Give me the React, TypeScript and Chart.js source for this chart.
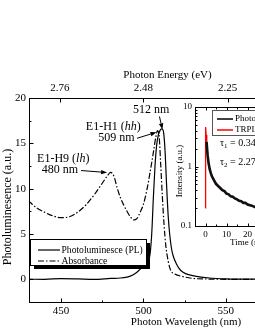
import React, { useEffect, useRef } from 'react';
import { Chart, registerables } from 'chart.js';

Chart.register(...registerables);

const SERIF = "'Liberation Serif', 'Times New Roman', serif";

// ---- Main chart data ----
const absWavelength = [430, 435, 440, 445, 450, 455, 460, 465, 470, 475, 478, 480, 482, 484, 486, 488, 490, 492, 494, 496, 498, 500, 502, 504, 506, 507.5, 508.5, 509.5, 510.5, 511.5, 512.5, 513.5, 515, 516.5, 519, 524, 530, 540, 560, 600];
const absorbance = [8.7, 7.9, 7.4, 7.0, 6.8, 6.9, 7.4, 8.2, 9.3, 10.6, 11.4, 11.8, 11.4, 10.1, 9.0, 8.2, 7.5, 6.9, 6.55, 6.7, 7.4, 8.3, 9.8, 11.8, 14.0, 15.7, 16.4, 15.8, 12.5, 9.0, 6.0, 3.8, 2.0, 1.0, 0.6, 0.3, 0.1, 0.03, 0, 0];

const plWavelength = [430, 440, 450, 460, 470, 480, 486, 490, 492, 495, 497, 499, 501, 503, 504, 505, 506, 507, 508, 509, 510, 511, 512, 513, 514, 515, 516, 517, 518, 520, 522.5, 526, 530, 535, 540, 550, 560, 580, 600];
const photoluminescence = [0.02, 0.0, 0.08, 0.05, 0.0, 0.1, 0.15, 0.25, 0.35, 0.65, 0.95, 1.3, 1.6, 2.0, 2.8, 5.0, 9.0, 12.5, 14.8, 15.9, 16.4, 16.6, 16.4, 14.5, 10.5, 7.0, 4.8, 3.4, 2.6, 1.7, 1.0, 0.6, 0.4, 0.25, 0.15, 0.06, 0.03, 0.01, 0];

const xMin = 430.5;
const xMax = 600;
const yMin = -2.5;
const yMax = 20;
const bottomTicks = [450, 500, 550];
const bottomMinorTicks = [475, 525, 575];
const leftTicks = [0, 5, 10, 15, 20];
const leftMinorTicks = [2.5, 7.5, 12.5, 17.5];
const energyTicks = [2.76, 2.48, 2.25];
const HC = 1240;

// ---- Inset data ----
const fitTime = [0, 0.05, 0.3, 0.6, 1, 1.5, 2, 3, 4, 5, 6, 8, 10, 12, 15, 18, 20, 25, 30, 35, 40, 45];
const fitValue = [0.2, 4.6, 3.4, 2.4, 1.6, 1.1, 0.88, 0.7, 0.6, 0.53, 0.48, 0.41, 0.36, 0.32, 0.28, 0.25, 0.235, 0.2, 0.18, 0.165, 0.15, 0.14];
const dataTime = [0.5, 1, 1.5, 2, 2.5, 3, 4, 5, 6, 7, 8, 9, 10, 11, 12, 13, 14, 15, 16, 17, 18, 19, 20, 22, 24, 26, 28, 30, 32, 35, 38, 41, 44];
const dataValue = [2.6, 1.55, 1.12, 0.9, 0.78, 0.69, 0.59, 0.51, 0.47, 0.435, 0.4, 0.385, 0.35, 0.34, 0.315, 0.31, 0.29, 0.28, 0.265, 0.26, 0.245, 0.245, 0.23, 0.22, 0.205, 0.2, 0.19, 0.18, 0.175, 0.165, 0.16, 0.15, 0.145];
const insetXTicks = [0, 10, 20, 30, 40];
const insetXMinor = [5, 15, 25, 35];
const insetYTicks = [0.1, 1, 10];
const insetYLabels = ['0.1', '1', '10'];
const insetYMinor = [0.2, 0.3, 0.4, 0.5, 0.6, 0.7, 0.8, 0.9, 2, 3, 4, 5, 6, 7, 8, 9];

type Part = [string, boolean];
const annotations: { parts: Part[]; nm: number; v: number }[] = [
  { parts: [['E1-H9 (', false], ['lh', true], [')', false]], nm: 451.3, v: 13.27 },
  { parts: [['480 nm', false]], nm: 449.3, v: 12.06 },
  { parts: [['E1-H1 (', false], ['hh', true], [')', false]], nm: 481.7, v: 16.86 },
  { parts: [['509 nm', false]], nm: 483.5, v: 15.64 },
  { parts: [['512 nm', false]], nm: 504.6, v: 18.68 },
];
const arrows = [
  { from: [462.1, 12.0], to: [477.9, 11.78] },
  { from: [496.1, 15.56], to: [507.9, 16.22] },
  { from: [509.7, 17.96], to: [511.5, 16.53] },
];

function drawRich(ctx: CanvasRenderingContext2D, parts: Part[], x: number, y: number, size: number) {
  let total = 0;
  const widths = parts.map(([t, it]) => {
    ctx.font = `${it ? 'italic ' : ''}${size}px ${SERIF}`;
    const w = ctx.measureText(t).width;
    total += w;
    return w;
  });
  let cx = x - total / 2;
  ctx.textAlign = 'left';
  ctx.textBaseline = 'middle';
  parts.forEach(([t, it], i) => {
    ctx.font = `${it ? 'italic ' : ''}${size}px ${SERIF}`;
    ctx.fillText(t, cx, y);
    cx += widths[i];
  });
}

function drawArrow(ctx: CanvasRenderingContext2D, x1: number, y1: number, x2: number, y2: number) {
  const ang = Math.atan2(y2 - y1, x2 - x1);
  const hl = 6, hw = 2.2;
  const bx = x2 - hl * Math.cos(ang), by = y2 - hl * Math.sin(ang);
  ctx.beginPath();
  ctx.moveTo(x1, y1);
  ctx.lineTo(bx, by);
  ctx.lineWidth = 1;
  ctx.stroke();
  ctx.beginPath();
  ctx.moveTo(x2, y2);
  ctx.lineTo(bx + hw * Math.sin(ang), by - hw * Math.cos(ang));
  ctx.lineTo(bx - hw * Math.sin(ang), by + hw * Math.cos(ang));
  ctx.closePath();
  ctx.fill();
}

const mainDecor = {
  id: 'mainDecor',
  afterDraw(chart: any) {
    const { ctx, chartArea: ca, scales } = chart;
    const xs = scales.x, ys = scales.y;
    ctx.save();
    ctx.strokeStyle = '#000';
    ctx.fillStyle = '#000';
    ctx.lineWidth = 1;
    ctx.strokeRect(Math.round(ca.left) + 0.5, Math.round(ca.top) + 0.5, ca.right - ca.left, Math.round(ca.bottom) - Math.round(ca.top));
    const tick = (x1: number, y1: number, x2: number, y2: number) => {
      ctx.beginPath();
      ctx.moveTo(x1, y1);
      ctx.lineTo(x2, y2);
      ctx.stroke();
    };
    const b = Math.round(ca.bottom) + 0.5, t = Math.round(ca.top) + 0.5, l = Math.round(ca.left) + 0.5;
    bottomTicks.forEach(v => { const x = Math.round(xs.getPixelForValue(v)) + 0.5; tick(x, b, x, b - 4); });
    bottomMinorTicks.forEach(v => { const x = Math.round(xs.getPixelForValue(v)) + 0.5; tick(x, b, x, b - 2); });
    energyTicks.forEach(e => { const x = Math.round(xs.getPixelForValue(HC / e)) + 0.5; tick(x, t, x, t + 4); });
    leftTicks.forEach(v => { const y = Math.round(ys.getPixelForValue(v)) + 0.5; tick(l, y, l + 4, y); });
    leftMinorTicks.forEach(v => { const y = Math.round(ys.getPixelForValue(v)) + 0.5; tick(l, y, l + 2, y); });

    // annotations
    annotations.forEach(a => drawRich(ctx, a.parts, xs.getPixelForValue(a.nm), ys.getPixelForValue(a.v), 12));
    arrows.forEach(a => drawArrow(ctx, xs.getPixelForValue(a.from[0]), ys.getPixelForValue(a.from[1]), xs.getPixelForValue(a.to[0]), ys.getPixelForValue(a.to[1])));

    // legend with drop shadow
    const lx = 30, ly = 239, lw = 116, lh = 26;
    ctx.fillRect(lx + 4, ly + 4, lw, lh);
    ctx.fillStyle = '#fff';
    ctx.fillRect(lx, ly, lw, lh);
    ctx.strokeStyle = '#000';
    ctx.strokeRect(lx + 0.5, ly + 0.5, lw, lh);
    ctx.fillStyle = '#000';
    ctx.lineWidth = 1.2;
    ctx.beginPath(); ctx.moveTo(38, 250); ctx.lineTo(60, 250); ctx.stroke();
    ctx.setLineDash([6, 2, 1.5, 2]);
    ctx.beginPath(); ctx.moveTo(38, 261); ctx.lineTo(60, 261); ctx.stroke();
    ctx.setLineDash([]);
    ctx.font = `9.6px ${SERIF}`;
    ctx.textAlign = 'left';
    ctx.textBaseline = 'middle';
    ctx.fillText('Photoluminesce (PL)', 61.5, 250);
    ctx.fillText('Absorbance', 61.5, 261);

    // axis titles
    ctx.font = `11px ${SERIF}`;
    ctx.textAlign = 'center';
    ctx.fillText('Photon Wavelength (nm)', 186, 322);
    ctx.fillText('Photon Energy (eV)', 167.5, 75);
    ctx.save();
    ctx.translate(8, 207);
    ctx.rotate(-Math.PI / 2);
    ctx.font = `12px ${SERIF}`;
    ctx.fillText('Photoluminesence (a.u.)', 0, 0);
    ctx.restore();
    ctx.restore();
  },
};

const insetDecor = {
  id: 'insetDecor',
  afterDraw(chart: any) {
    const { ctx, chartArea: ca, scales } = chart;
    const xs = scales.x, ys = scales.y;
    ctx.save();
    ctx.strokeStyle = '#000';
    ctx.fillStyle = '#000';
    ctx.lineWidth = 1;
    const l = Math.round(ca.left) + 0.5, t = Math.round(ca.top) + 0.5, b = Math.round(ca.bottom) + 0.5;
    ctx.strokeRect(l, t, Math.round(ca.right) - Math.round(ca.left), Math.round(ca.bottom) - Math.round(ca.top));
    const tick = (x1: number, y1: number, x2: number, y2: number) => {
      ctx.beginPath(); ctx.moveTo(x1, y1); ctx.lineTo(x2, y2); ctx.stroke();
    };
    insetXTicks.forEach(v => { const x = Math.round(xs.getPixelForValue(v)) + 0.5; tick(x, b, x, b - 3); tick(x, t, x, t + 3); });
    insetXMinor.forEach(v => { const x = Math.round(xs.getPixelForValue(v)) + 0.5; tick(x, b, x, b - 2); tick(x, t, x, t + 2); });
    insetYTicks.forEach(v => { const y = Math.round(ys.getPixelForValue(v)) + 0.5; tick(l, y, l + 3, y); });
    insetYMinor.forEach(v => { const y = Math.round(ys.getPixelForValue(v)) + 0.5; tick(l, y, l + 2, y); });

    // legend
    const lx = 42, ly = 15;
    ctx.strokeStyle = '#555';
    ctx.strokeRect(lx + 0.5, ly + 0.5, 88, 25);
    ctx.lineWidth = 1.5;
    ctx.strokeStyle = '#000';
    ctx.beginPath(); ctx.moveTo(47, 24); ctx.lineTo(63, 24); ctx.stroke();
    ctx.strokeStyle = '#ff0000';
    ctx.beginPath(); ctx.moveTo(47, 35); ctx.lineTo(63, 35); ctx.stroke();
    ctx.font = `9px ${SERIF}`;
    ctx.textAlign = 'left';
    ctx.textBaseline = 'middle';
    ctx.fillText('Photoluminescence', 65, 24);
    ctx.fillText('TRPL fitting', 65, 35);

    // tau values
    const tau = (y: number, sub: string, rest: string) => {
      let x = 50;
      ctx.font = `10px ${SERIF}`;
      ctx.fillText('τ', x, y);
      x += ctx.measureText('τ').width;
      ctx.font = `7px ${SERIF}`;
      ctx.fillText(sub, x, y + 3);
      x += ctx.measureText(sub).width;
      ctx.font = `10px ${SERIF}`;
      ctx.fillText(rest, x, y);
    };
    tau(48, '1', ' = 0.34 ns');
    tau(67, '2', ' = 2.27 ns');

    // titles
    ctx.font = `9px ${SERIF}`;
    ctx.textAlign = 'center';
    ctx.fillText('Time (ns)', (ca.left + ca.right) / 2, 148);
    ctx.save();
    ctx.translate(10, 76);
    ctx.rotate(-Math.PI / 2);
    ctx.fillText('Intensity (a.u.)', 0, 0);
    ctx.restore();
    ctx.restore();
  },
};

export default function App() {
  const mainRef = useRef<HTMLCanvasElement>(null);
  const insetRef = useRef<HTMLCanvasElement>(null);

  useEffect(() => {
    const tickFont = { family: SERIF, size: 11 };
    const main = new Chart(mainRef.current!, {
      type: 'line',
      data: {
        datasets: [
          {
            label: 'Photoluminesce (PL)',
            data: plWavelength.map((x, i) => ({ x, y: photoluminescence[i] })),
            borderColor: '#000',
            borderWidth: 1.2,
            pointRadius: 0,
            cubicInterpolationMode: 'monotone',
          },
          {
            label: 'Absorbance',
            data: absWavelength.map((x, i) => ({ x, y: absorbance[i] })),
            borderColor: '#000',
            borderWidth: 1.2,
            borderDash: [6, 2, 1.5, 2],
            pointRadius: 0,
            cubicInterpolationMode: 'monotone',
          },
        ],
      },
      options: {
        animation: false,
        responsive: false,
        layout: { padding: { left: 0, top: 0, bottom: 0, right: 340 - 308.2 } },
        plugins: { legend: { display: false }, tooltip: { enabled: false } },
        scales: {
          x: {
            type: 'linear', position: 'bottom', min: xMin, max: xMax,
            afterBuildTicks: (s: any) => { s.ticks = bottomTicks.map(v => ({ value: v })); },
            afterFit: (s: any) => { s.height = 28; },
            grid: { display: false, drawTicks: false },
            border: { display: false },
            ticks: { font: tickFont, color: '#000', padding: 3, maxRotation: 0, autoSkip: false },
          },
          xTop: {
            type: 'linear', position: 'top', min: xMin, max: xMax,
            afterBuildTicks: (s: any) => { s.ticks = energyTicks.map(e => ({ value: HC / e })); },
            afterFit: (s: any) => { s.height = 98; },
            grid: { display: false, drawTicks: false },
            border: { display: false },
            ticks: { font: tickFont, color: '#000', padding: 3, maxRotation: 0, autoSkip: false, callback: (v: any) => (HC / Number(v)).toFixed(2) },
          },
          y: {
            type: 'linear', position: 'left', min: yMin, max: yMax,
            afterBuildTicks: (s: any) => { s.ticks = leftTicks.map(v => ({ value: v })); },
            afterFit: (s: any) => { s.width = 29; },
            grid: { display: false, drawTicks: false },
            border: { display: false },
            ticks: { font: tickFont, color: '#000', padding: 3, autoSkip: false },
          },
        },
      } as any,
      plugins: [mainDecor],
    });

    const inset = new Chart(insetRef.current!, {
      type: 'line',
      data: {
        datasets: [
          {
            label: 'Photoluminescence',
            data: dataTime.map((x, i) => ({ x, y: dataValue[i] })),
            borderColor: '#111',
            borderWidth: 2.6,
            pointRadius: 0,
          },
          {
            label: 'TRPL fitting',
            data: fitTime.map((x, i) => ({ x, y: fitValue[i] })),
            borderColor: '#ff0000',
            borderWidth: 1.3,
            pointRadius: 0,
          },
        ],
      },
      options: {
        animation: false,
        responsive: false,
        layout: { padding: { left: 0, top: 12, bottom: 0, right: 150 - 130 } },
        plugins: { legend: { display: false }, tooltip: { enabled: false } },
        scales: {
          x: {
            type: 'linear', min: -5, max: 45,
            afterBuildTicks: (s: any) => { s.ticks = insetXTicks.map(v => ({ value: v })); },
            afterFit: (s: any) => { s.height = 165 - 131; },
            grid: { display: false, drawTicks: false },
            border: { display: false },
            ticks: { font: { family: SERIF, size: 9 }, color: '#000', padding: 3, maxRotation: 0, autoSkip: false },
          },
          y: {
            type: 'logarithmic', min: 0.1, max: 10,
            afterBuildTicks: (s: any) => { s.ticks = insetYTicks.map(v => ({ value: v })); },
            afterFit: (s: any) => { s.width = 25; },
            grid: { display: false, drawTicks: false },
            border: { display: false },
            ticks: { font: { family: SERIF, size: 9 }, color: '#000', padding: 3, autoSkip: false, callback: (_v: any, i: number) => insetYLabels[i] },
          },
        },
      } as any,
      plugins: [insetDecor],
    });

    return () => { main.destroy(); inset.destroy(); };
  }, []);

  return (
    <div style={{ position: 'fixed', left: 0, top: 0, width: 255, height: 330, overflow: 'hidden', background: '#fff' }}>
      <canvas ref={mainRef} width={340} height={330} style={{ position: 'absolute', left: 0, top: 0, width: 340, height: 330 }} />
      <canvas ref={insetRef} width={150} height={165} style={{ position: 'absolute', left: 170, top: 95, width: 150, height: 165 }} />
    </div>
  );
}
